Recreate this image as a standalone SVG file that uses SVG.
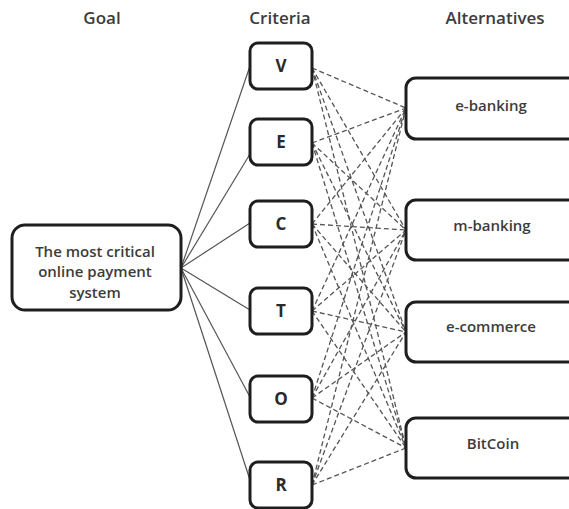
<svg xmlns="http://www.w3.org/2000/svg" width="569" height="509" viewBox="0 0 569 509">
<style>
.box{fill:#fff;stroke:#1e1e1e;stroke-width:3}
.hdr{font-family:"Open Sans","Liberation Sans",sans-serif;font-size:17px;font-weight:600;fill:#3c3c3c;text-anchor:middle}
.lbl{font-family:"Open Sans","Liberation Sans",sans-serif;font-size:15px;font-weight:600;fill:#3c3c3c;text-anchor:middle}
.crit{font-family:"Open Sans","Liberation Sans",sans-serif;font-size:17px;font-weight:700;fill:#2a2a2a;text-anchor:middle}
.solid{stroke:#555;stroke-width:1.2;fill:none}
.dash{stroke:#555;stroke-width:1.3;stroke-dasharray:5 3;fill:none}
</style>
<rect width="569" height="509" fill="#fff"/>
<g id="headers">
<text class="hdr" x="102" y="24">Goal</text>
<text class="hdr" x="280" y="24">Criteria</text>
<text class="hdr" x="495" y="24">Alternatives</text>
</g>
<g id="connectors">
<line class="solid" x1="181" y1="268" x2="250" y2="66"/>
<line class="solid" x1="181" y1="268" x2="250" y2="154"/>
<line class="solid" x1="181" y1="268" x2="250" y2="223"/>
<line class="solid" x1="181" y1="268" x2="250" y2="310"/>
<line class="solid" x1="181" y1="268" x2="250" y2="397"/>
<line class="solid" x1="181" y1="268" x2="250" y2="480"/>
<line class="dash" x1="312" y1="68" x2="406" y2="108"/>
<line class="dash" x1="312" y1="68" x2="406" y2="230"/>
<line class="dash" x1="312" y1="68" x2="406" y2="332"/>
<line class="dash" x1="312" y1="68" x2="406" y2="448"/>
<line class="dash" x1="312" y1="143" x2="406" y2="108"/>
<line class="dash" x1="312" y1="143" x2="406" y2="230"/>
<line class="dash" x1="312" y1="143" x2="406" y2="332"/>
<line class="dash" x1="312" y1="143" x2="406" y2="448"/>
<line class="dash" x1="312" y1="224" x2="406" y2="108"/>
<line class="dash" x1="312" y1="224" x2="406" y2="230"/>
<line class="dash" x1="312" y1="224" x2="406" y2="332"/>
<line class="dash" x1="312" y1="224" x2="406" y2="448"/>
<line class="dash" x1="312" y1="311" x2="406" y2="108"/>
<line class="dash" x1="312" y1="311" x2="406" y2="230"/>
<line class="dash" x1="312" y1="311" x2="406" y2="332"/>
<line class="dash" x1="312" y1="311" x2="406" y2="448"/>
<line class="dash" x1="312" y1="398" x2="406" y2="108"/>
<line class="dash" x1="312" y1="398" x2="406" y2="230"/>
<line class="dash" x1="312" y1="398" x2="406" y2="332"/>
<line class="dash" x1="312" y1="398" x2="406" y2="448"/>
<line class="dash" x1="312" y1="485" x2="406" y2="108"/>
<line class="dash" x1="312" y1="485" x2="406" y2="230"/>
<line class="dash" x1="312" y1="485" x2="406" y2="332"/>
<line class="dash" x1="312" y1="485" x2="406" y2="448"/>
</g>
<g id="goal">
<rect class="box" x="12" y="225" width="169" height="85" rx="13"/>
<text class="lbl" x="95" y="257">The most critical</text>
<text class="lbl" x="95" y="277">online payment</text>
<text class="lbl" x="95" y="298">system</text>
</g>
<g id="crit-V"><rect class="box" x="250" y="43" width="62" height="46" rx="8"/><text class="crit" x="281" y="72">V</text></g>
<g id="crit-E"><rect class="box" x="250" y="119" width="62" height="46" rx="8"/><text class="crit" x="281" y="148">E</text></g>
<g id="crit-C"><rect class="box" x="250" y="201" width="62" height="46" rx="8"/><text class="crit" x="281" y="230">C</text></g>
<g id="crit-T"><rect class="box" x="250" y="288" width="62" height="46" rx="8"/><text class="crit" x="281" y="317">T</text></g>
<g id="crit-O"><rect class="box" x="250" y="376" width="62" height="46" rx="8"/><text class="crit" x="281" y="405">O</text></g>
<g id="crit-R"><rect class="box" x="250" y="462" width="62" height="46" rx="8"/><text class="crit" x="281" y="491">R</text></g>
<g id="alt-ebanking"><rect class="box" x="406" y="78" width="180" height="61" rx="10"/><text class="lbl" x="491" y="111">e-banking</text></g>
<g id="alt-mbanking"><rect class="box" x="406" y="200" width="180" height="60" rx="10"/><text class="lbl" x="492" y="231">m-banking</text></g>
<g id="alt-ecommerce"><rect class="box" x="406" y="302" width="180" height="60" rx="10"/><text class="lbl" x="491" y="332">e-commerce</text></g>
<g id="alt-bitcoin"><rect class="box" x="406" y="418" width="180" height="60" rx="10"/><text class="lbl" x="493" y="449">BitCoin</text></g>
</svg>
